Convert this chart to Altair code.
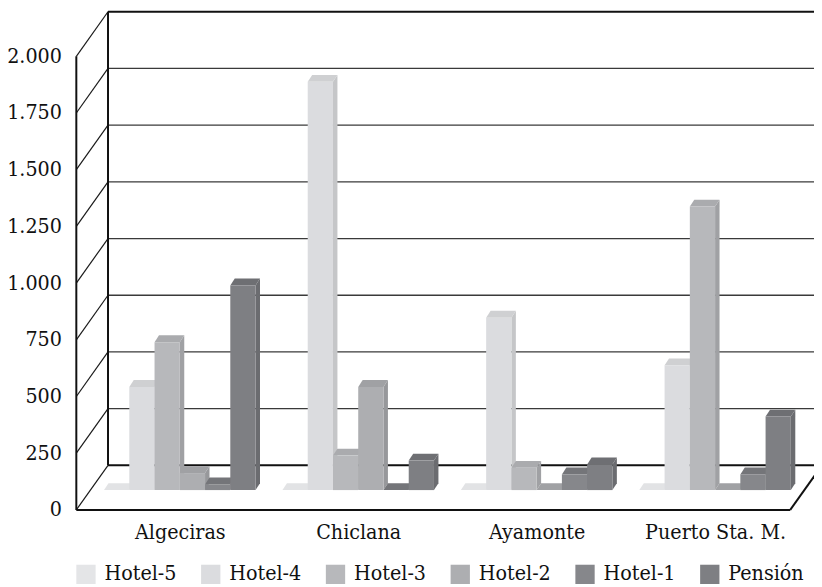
import altair as alt
import pandas as pd

# ---------------- data ----------------
categories = ["Algeciras", "Chiclana", "Ayamonte", "Puerto Sta. M."]
series = ["Hotel-5", "Hotel-4", "Hotel-3", "Hotel-2", "Hotel-1", "Pensión"]
hotel5 = [0, 0, 0, 0]
hotel4 = [455, 1800, 760, 550]
hotel3 = [652, 152, 98, 1250]
hotel2 = [75, 455, 0, 0]
hotel1 = [25, 0, 69, 69]
pension = [902, 130, 113, 324]
y_ticks = [0, 250, 500, 750, 1000, 1250, 1500, 1750, 2000]

# ---------------- styles ----------------
front_colors = ["#e4e5e7", "#dbdcdf", "#b7b8bb", "#adaeb1", "#86878b", "#7e7f83"]
top_colors = ["#e2e3e5", "#cfd0d2", "#aaabae", "#a0a1a4", "#747579", "#6e6f73"]
side_colors = ["#d8d9db", "#c5c6c8", "#a0a1a4", "#97989b", "#6f7074", "#6b6c70"]
FONT = "DejaVu Serif Condensed"
FS = 21.5

# ---------------- layout (plot pixels) ----------------
W, H = 745, 503
YMAX = 2196
KPX = H / YMAX
WALL_DX, WALL_DY = 32, 45 / KPX
FLOOR_W = 721
BAR_DY = 20 / KPX
DEP_DX, DEP_DY = 4.5, 7 / KPX
GROUP0, STEP, BAR_W = 28, 180.2, 25.5

values = [hotel5, hotel4, hotel3, hotel2, hotel1, pension]

fronts, tops, sides = [], [], []
for i, cat in enumerate(categories):
    for j, s in enumerate(series):
        v = values[j][i]
        x0 = GROUP0 + i * STEP + j * BAR_W
        x1 = x0 + BAR_W
        base, top = BAR_DY, BAR_DY + v
        fid = f"{i:02d}{j:02d}"
        fronts.append({"series": s, "x": x0, "x2": x1, "y": base, "y2": top})
        tops.append({"face": fid, "y": top, "xa": x0, "xb": x1, "fill": top_colors[j]})
        tops.append({"face": fid, "y": top + DEP_DY, "xa": x0 + DEP_DX, "xb": x1 + DEP_DX, "fill": top_colors[j]})
        sides.append({"face": fid, "x": x1, "ya": base, "yb": top, "fill": side_colors[j]})
        sides.append({"face": fid, "x": x1 + DEP_DX, "ya": base + DEP_DY, "yb": top + DEP_DY, "fill": side_colors[j]})

fronts = pd.DataFrame(fronts)
tops = pd.DataFrame(tops)
sides = pd.DataFrame(sides)

grid_mid = pd.DataFrame({"x": WALL_DX, "x2": W + 20, "y": [t + WALL_DY for t in y_ticks[1:-1]]})
grid_edge = pd.DataFrame({"x": WALL_DX, "x2": W + 20, "y": [y_ticks[0] + WALL_DY, y_ticks[-1] + WALL_DY]})
diags = pd.DataFrame({"x": 0, "x2": WALL_DX, "y": y_ticks, "y2": [t + WALL_DY for t in y_ticks]})
frame = pd.DataFrame([
    {"x": WALL_DX, "x2": WALL_DX, "y": WALL_DY, "y2": y_ticks[-1] + WALL_DY},   # back wall left edge
    {"x": 0, "x2": 0, "y": 0, "y2": y_ticks[-1]},                               # front axis
    {"x": 0, "x2": FLOOR_W, "y": 0, "y2": 0},                                   # front floor
    {"x": FLOOR_W, "x2": FLOOR_W + WALL_DX, "y": 0, "y2": WALL_DY},             # right floor edge
])

centers = [GROUP0 + i * STEP + 3 * BAR_W for i in range(len(categories))]
cat_list = "[" + ",".join("'" + c + "'" for c in categories) + "]"
x_label_expr = f"{cat_list}[round((datum.value - {centers[0]}) / {STEP})]"

xscale = alt.Scale(domain=[0, W], nice=False, zero=False)
yscale = alt.Scale(domain=[0, YMAX], nice=False, zero=False)

x_axis = alt.Axis(values=centers, labelExpr=x_label_expr, domain=False, ticks=False, grid=False,
                  labelFont=FONT, labelFontSize=FS, labelColor="#111", labelPadding=12, title=None,
                  labelOverlap=False)
y_axis = alt.Axis(values=y_ticks, labelExpr="replace(format(datum.value, ','), ',', '.')",
                  domain=False, ticks=False, grid=False, labelFont=FONT, labelFontSize=FS,
                  labelColor="#111", labelPadding=15, title=None, labelOverlap=False)


def X(field):
    return alt.X(field, scale=xscale, axis=x_axis, title=None)


def Y(field):
    return alt.Y(field, scale=yscale, axis=y_axis, title=None)


grid_layer = alt.Chart(grid_mid).mark_rule(color="#3a3a3a", strokeWidth=1.3).encode(
    x=X("x:Q"), x2="x2:Q", y=Y("y:Q"))
edge_layer = alt.Chart(grid_edge).mark_rule(color="#111", strokeWidth=2).encode(
    x=X("x:Q"), x2="x2:Q", y=Y("y:Q"))
diag_layer = alt.Chart(diags).mark_rule(color="#1a1a1a", strokeWidth=1.2).encode(
    x=X("x:Q"), x2="x2:Q", y=Y("y:Q"), y2="y2:Q")
frame_layer = alt.Chart(frame).mark_rule(color="#111", strokeWidth=2).encode(
    x=X("x:Q"), x2="x2:Q", y=Y("y:Q"), y2="y2:Q")

side_layer = alt.Chart(sides).mark_area(orient="vertical").encode(
    x=X("x:Q"), y=Y("ya:Q"), y2="yb:Q",
    fill=alt.Fill("fill:N", scale=None), detail="face:N")
top_layer = alt.Chart(tops).mark_area(orient="horizontal").encode(
    y=Y("y:Q"), x=X("xa:Q"), x2="xb:Q",
    fill=alt.Fill("fill:N", scale=None), detail="face:N")
front_layer = alt.Chart(fronts).mark_rect().encode(
    x=X("x:Q"), x2="x2:Q", y=Y("y:Q"), y2="y2:Q",
    color=alt.Color("series:N", scale=alt.Scale(domain=series, range=front_colors),
                    legend=alt.Legend(orient="none", legendX=-1, legendY=557, direction="horizontal",
                                      columns=6, symbolType="square", symbolSize=380,
                                      symbolStrokeWidth=0, labelFont=FONT, labelFontSize=FS,
                                      labelColor="#111", labelOffset=8, columnPadding=23,
                                      padding=0, title=None, symbolOpacity=1)))

chart = alt.layer(grid_layer, edge_layer, diag_layer, frame_layer,
                  side_layer, top_layer, front_layer).properties(
    width=W, height=H,
    autosize=alt.AutoSizeParams(type="none"),
    padding={"left": 69, "top": 1, "right": 0, "bottom": 75},
    background="white",
).configure_view(strokeWidth=0)

chart.save("out.html", embed_options={"renderer": "svg", "actions": False})
